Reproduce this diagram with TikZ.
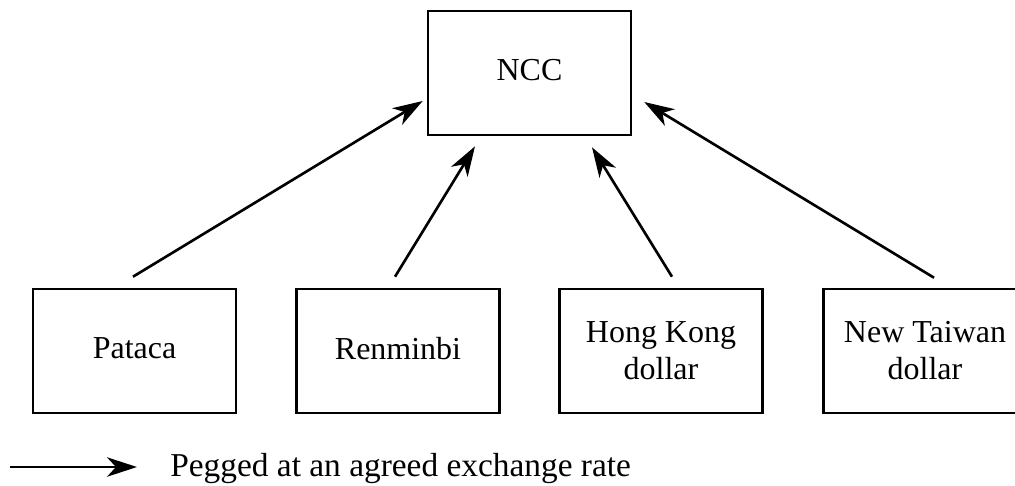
\documentclass[tikz,border=0pt]{standalone}
\usepackage{fontspec}
\setmainfont{Liberation Serif}
\usepackage{tikz}
\usetikzlibrary{positioning, arrows.meta, calc}

\tikzset{
    currency/.style = {draw, line width=1.5pt, minimum width=4.06cm, minimum height=2.48cm,
        align=center, font=\fontsize{18.2}{21}\selectfont},
    single/.style = {text depth=0.3em},
    peg/.style = {line width=1.5pt, -{Stealth[length=17pt,width=11pt,inset=5pt]}}
}

\begin{document}
\begin{tikzpicture}[x=0.02cm, y=-0.02cm]
        \useasboundingbox (0,0) rectangle (1015,485);

        \node[currency, single] (ncc) at (529.5,73) {NCC};

        \node[currency, single] (pataca) at (134.5,351) {Pataca};
        \node[currency, single] (rmb) at (398,351) {Renminbi};
        \node[currency] (hkd) at (661,351) {Hong Kong\\dollar};
        \node[currency] (ntd) at (925,351) {New Taiwan\\dollar};

        \draw[peg] ($(pataca.north)+(-1.5,-11)$) -- ($(ncc.west)+(-4,28)$);
        \draw[peg] ($(rmb.north)+(-3,-11)$) -- ($(ncc.south)+(-54.5,10)$);
        \draw[peg] ($(hkd.north)+(11,-11)$) -- ($(ncc.south)+(62.5,11)$);
        \draw[peg] ($(ntd.north)+(9,-10)$) -- ($(ncc.east)+(12,29)$);

        % legend
        \node[anchor=base west, inner sep=0pt, font=\fontsize{19}{21}\selectfont] (legtext) at (170,476)
            {Pegged at an agreed exchange rate};
        \coordinate (legstart) at (10,467);
        \draw[peg] (legstart) -- ($(legtext.base west)+(-33,-9)$);
    \end{tikzpicture}
\end{document}
